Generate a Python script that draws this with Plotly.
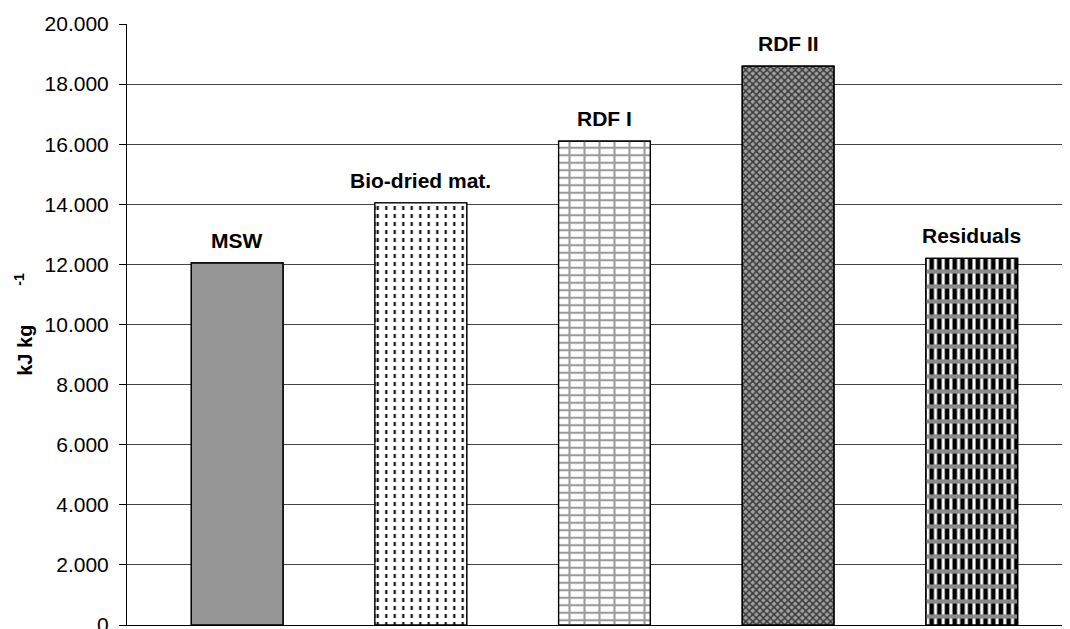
import plotly.graph_objects as go

# Data
categories = ["MSW", "Bio-dried mat.", "RDF I", "RDF II", "Residuals"]
values = [12050, 14050, 16100, 18600, 12200]
y_ticks = [0, 2000, 4000, 6000, 8000, 10000, 12000, 14000, 16000, 18000, 20000]
y_tick_labels = ["0", "2.000", "4.000", "6.000", "8.000", "10.000",
                 "12.000", "14.000", "16.000", "18.000", "20.000"]

# Styles (base layer and overlay layer of fill patterns)
base_shape = [".", "|", "-", "x", "|"]
base_fg = ["#969696", "black", "#9a9a9a", "#3a3a3a", "black"]
base_bg = ["#969696", "white", "white", "#a0a0a0", "white"]
base_size = [8, 8.5, 7.5, 5, 7.7]
base_solid = [0.3, 0.24, 0.28, 0.5, 0.6]

over_shape = ["", "-", "|", "", "-"]
over_fg = ["black", "white", "#9a9a9a", "black", "#8a8a8a"]
over_size = [8, 8, 15, 8, 15]
over_solid = [0.3, 0.5, 0.14, 0.3, 0.28]

font_family = "Liberation Sans, Arial, sans-serif"

fig = go.Figure()
fig.add_trace(go.Bar(
    uid="basebars",
    x=categories, y=values, width=0.5,
    marker=dict(
        color="white",
        line=dict(color="black", width=1.2),
        pattern=dict(shape=base_shape, fgcolor=base_fg, bgcolor=base_bg,
                     size=base_size, solidity=base_solid, fillmode="replace"),
    ),
    showlegend=False, hoverinfo="skip",
))
fig.add_trace(go.Bar(
    uid="overbars",
    x=categories, y=values, width=0.5,
    marker=dict(
        color="rgba(0,0,0,0)",
        line=dict(color="black", width=1.2),
        pattern=dict(shape=over_shape, fgcolor=over_fg,
                     size=over_size, solidity=over_solid, fillmode="replace"),
    ),
    showlegend=False, hoverinfo="skip",
))

for c, v in zip(categories, values):
    fig.add_annotation(x=c, y=v, text="<b>%s</b>" % c, showarrow=False,
                       yanchor="bottom", yshift=9,
                       font=dict(family=font_family, size=21, color="black"))

# the page body adds an 8px offset; compensate in size and margins
fig.update_layout(
    width=1062, height=621,
    margin=dict(l=119, r=0, t=16, b=4, autoexpand=False),
    paper_bgcolor="white", plot_bgcolor="white",
    barmode="overlay",
    font=dict(family=font_family, size=21, color="black"),
    xaxis=dict(
        range=[-0.6, 4.535], showticklabels=False, ticks="",
        showline=True, linecolor="black", linewidth=1, showgrid=False,
        zeroline=False,
    ),
    yaxis=dict(
        range=[0, 20000], tickvals=y_ticks, ticktext=y_tick_labels,
        ticks="outside", ticklen=7, tickcolor="black", tickwidth=1,
        ticklabelstandoff=6, ticklabeloverflow="allow", automargin=False,
        showline=True, linecolor="black", linewidth=1,
        showgrid=True, gridcolor="#444444", gridwidth=1, zeroline=False,
        tickfont=dict(family=font_family, size=21, color="black"),
        title=dict(text="<b>kJ kg<sup>" + "\u00a0" * 10 + "-1</sup></b>", standoff=6,
                   font=dict(family=font_family, size=20, color="black")),
    ),
)

fig.write_html("out.html")
